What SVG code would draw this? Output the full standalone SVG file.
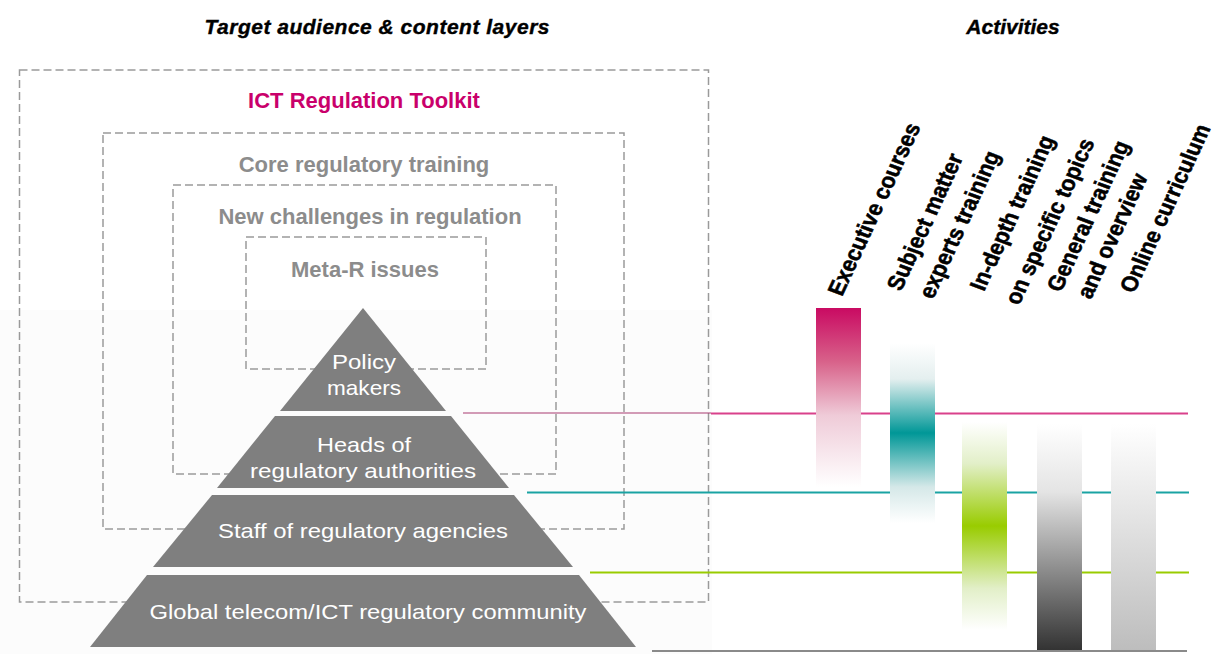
<svg xmlns="http://www.w3.org/2000/svg" width="1227" height="654" viewBox="0 0 1227 654">
<defs>
<style>
text{font-family:"Liberation Sans",Arial,sans-serif}
.head{font-size:21px;font-weight:bold;font-style:italic;fill:#000;stroke:#000;stroke-width:0.4;text-anchor:middle}
.layer{font-size:22px;font-weight:bold;fill:#8c8c8c;text-anchor:middle}
.box{fill:none;stroke:#9a9a9a;stroke-width:1.5;stroke-dasharray:8 4}
.tier{fill:#7f7f7f}
.tt{font-size:21px;fill:#fff;text-anchor:middle}
.act{font-size:21px;font-weight:bold;fill:#000;stroke:#000;stroke-width:0.5}
</style>
<linearGradient id="gPink" x1="0" y1="0" x2="0" y2="1">
<stop offset="0" stop-color="#c90a62"/>
<stop offset="0.3" stop-color="#d8628a"/>
<stop offset="0.6" stop-color="#efcbd8"/>
<stop offset="1" stop-color="#ffffff"/>
</linearGradient>
<linearGradient id="gTeal" x1="0" y1="0" x2="0" y2="1">
<stop offset="0" stop-color="#ffffff"/>
<stop offset="0.2" stop-color="#e4efef"/>
<stop offset="0.5" stop-color="#009797"/>
<stop offset="0.8" stop-color="#d5e8e8"/>
<stop offset="1" stop-color="#ffffff"/>
</linearGradient>
<linearGradient id="gGreen" x1="0" y1="0" x2="0" y2="1">
<stop offset="0" stop-color="#ffffff"/>
<stop offset="0.2" stop-color="#e2efc8"/>
<stop offset="0.5" stop-color="#99cc00"/>
<stop offset="0.8" stop-color="#e2efc8"/>
<stop offset="1" stop-color="#ffffff"/>
</linearGradient>
<linearGradient id="gDark" x1="0" y1="0" x2="0" y2="1">
<stop offset="0" stop-color="#ffffff"/>
<stop offset="0.3" stop-color="#e4e4e4"/>
<stop offset="1" stop-color="#333333"/>
</linearGradient>
<linearGradient id="gLight" x1="0" y1="0" x2="0" y2="1">
<stop offset="0" stop-color="#ffffff"/>
<stop offset="1" stop-color="#bdbdbd"/>
</linearGradient>
</defs>
<rect x="0" y="0" width="1227" height="654" fill="#ffffff"/>
<rect x="0" y="310" width="712" height="344" fill="#fcfcfc"/>

<g id="headers">
<text class="head" x="377" y="34" textLength="345">Target audience &amp; content layers</text>
<text class="head" x="1013" y="34">Activities</text>
</g>

<g id="box-toolkit">
<rect class="box" x="19.5" y="70" width="689" height="532"/>
<text x="364" y="108" style="font-size:22px;font-weight:bold;fill:#c9006b;text-anchor:middle">ICT Regulation Toolkit</text>
</g>
<g id="box-core">
<rect class="box" x="103" y="133" width="521" height="396"/>
<text class="layer" x="364" y="172">Core regulatory training</text>
</g>
<g id="box-new">
<rect class="box" x="173" y="185" width="383" height="289"/>
<text class="layer" x="370" y="224">New challenges in regulation</text>
</g>
<g id="box-meta">
<rect class="box" x="246" y="237" width="240" height="132"/>
<text class="layer" x="365" y="277">Meta-R issues</text>
</g>

<g id="connectors">
<line x1="463" y1="413" x2="711" y2="413" stroke="#a83a70" stroke-width="1"/>
<line x1="711" y1="413.5" x2="1188" y2="413.5" stroke="#d9418b" stroke-width="2"/>
<line x1="527" y1="492.5" x2="1189" y2="492.5" stroke="#1aa3a3" stroke-width="2"/>
<line x1="590" y1="572.5" x2="1189" y2="572.5" stroke="#99cc00" stroke-width="2"/>
<line x1="652" y1="651" x2="1187" y2="651" stroke="#8a8a8a" stroke-width="2"/>
</g>

<g id="tier-policy">
<polygon class="tier" points="363,308 446,411 280,411"/>
<text class="tt" x="364" y="369" textLength="64" lengthAdjust="spacingAndGlyphs">Policy</text>
<text class="tt" x="364" y="395" textLength="74" lengthAdjust="spacingAndGlyphs">makers</text>
</g>
<g id="tier-heads">
<polygon class="tier" points="275,416 451,416 509,488 217,488"/>
<text class="tt" x="364" y="452" textLength="94" lengthAdjust="spacingAndGlyphs">Heads of</text>
<text class="tt" x="363" y="478" textLength="226" lengthAdjust="spacingAndGlyphs">regulatory authorities</text>
</g>
<g id="tier-staff">
<polygon class="tier" points="212,495 514,495 573,567 153,567"/>
<text class="tt" x="363" y="538" textLength="290" lengthAdjust="spacingAndGlyphs">Staff of regulatory agencies</text>
</g>
<g id="tier-global">
<polygon class="tier" points="147,575 579,575 636,647 90,647"/>
<text class="tt" x="368" y="619" textLength="437" lengthAdjust="spacingAndGlyphs">Global telecom/ICT regulatory community</text>
</g>

<g id="bar-executive">
<rect x="816" y="308" width="45" height="179" fill="url(#gPink)"/>
<text class="act" transform="translate(842,297) scale(1.12,1) rotate(-67.5)">Executive courses</text>
</g>
<g id="bar-sme">
<rect x="890" y="343" width="45" height="180" fill="url(#gTeal)"/>
<text class="act" transform="translate(901,292) scale(1.12,1) rotate(-67.5)">Subject matter</text>
<text class="act" transform="translate(933,300) scale(1.12,1) rotate(-67.5)">experts training</text>
</g>
<g id="bar-indepth">
<rect x="962" y="422" width="45" height="208" fill="url(#gGreen)"/>
<text class="act" transform="translate(984,292) scale(1.12,1) rotate(-67.5)">In-depth training</text>
<text class="act" transform="translate(1019,306) scale(1.12,1) rotate(-67.5)">on specific topics</text>
</g>
<g id="bar-general">
<rect x="1037" y="424" width="45" height="226" fill="url(#gDark)"/>
<text class="act" transform="translate(1061,293) scale(1.12,1) rotate(-67.5)">General training</text>
<text class="act" transform="translate(1091,300) scale(1.12,1) rotate(-67.5)">and overview</text>
</g>
<g id="bar-online">
<rect x="1111" y="424" width="45" height="226" fill="url(#gLight)"/>
<text class="act" transform="translate(1134,294) scale(1.12,1) rotate(-67.5)">Online curriculum</text>
</g>
</svg>
